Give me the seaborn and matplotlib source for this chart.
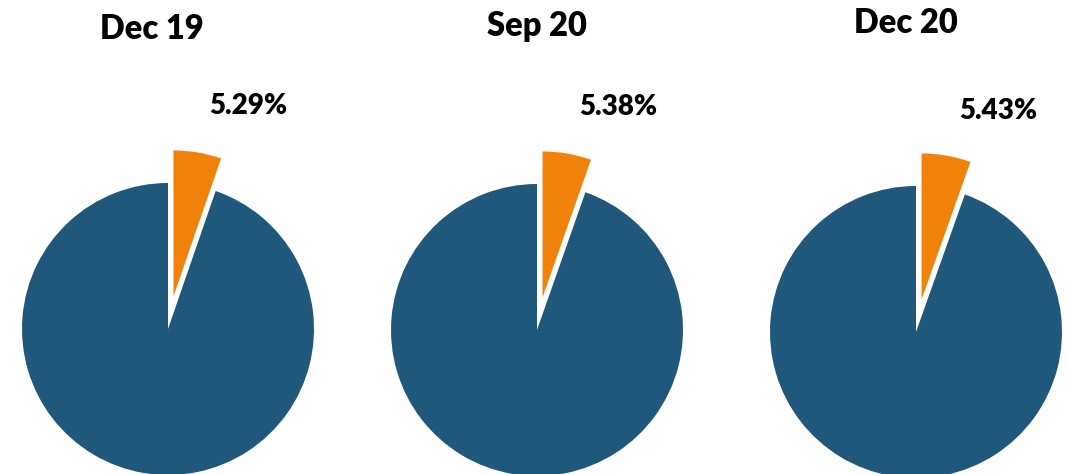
import matplotlib
matplotlib.use("Agg")
import matplotlib.pyplot as plt
import seaborn as sns

# data
periods = ["Dec 19", "Sep 20", "Dec 20"]
shares = [5.29, 5.38, 5.43]

# colours
blue = "#1F587A"
orange = "#F0820A"

sns.set_style("white")
plt.rcParams['font.family'] = ['Lato', 'DejaVu Sans']

W, H = 1067, 474
fig = plt.figure(figsize=(W / 100, H / 100), dpi=100)
ax = fig.add_axes([0, 0, 1, 1])

# layout in pixels (x centre, y from top)
centres = [(168, 329), (537, 330), (916, 332)]
radius = 146
title_pos = [(152, 29), (537, 26), (906, 23)]
label_pos = [(248, 106), (618, 107), (998, 111)]

for i, pct in enumerate(shares):
    cx, cy = centres[i]
    ax.pie([pct, 100 - pct], colors=[orange, blue], startangle=90,
           counterclock=False, explode=[33, 0], radius=radius,
           center=(cx, H - cy), frame=True,
           wedgeprops={"linewidth": 0})
    tx, ty = title_pos[i]
    ax.text(tx, H - ty, periods[i], ha="center", va="center",
            fontsize=23.5, fontweight="heavy", color="black")
    lx, ly = label_pos[i]
    ax.text(lx, H - ly, f"{pct:.2f}%", ha="center", va="center",
            fontsize=20, fontweight="heavy", color="black")

ax.set_xlim(0, W)
ax.set_ylim(0, H)
ax.set_aspect("auto")
ax.axis("off")

fig.savefig("out.png", dpi=100)
